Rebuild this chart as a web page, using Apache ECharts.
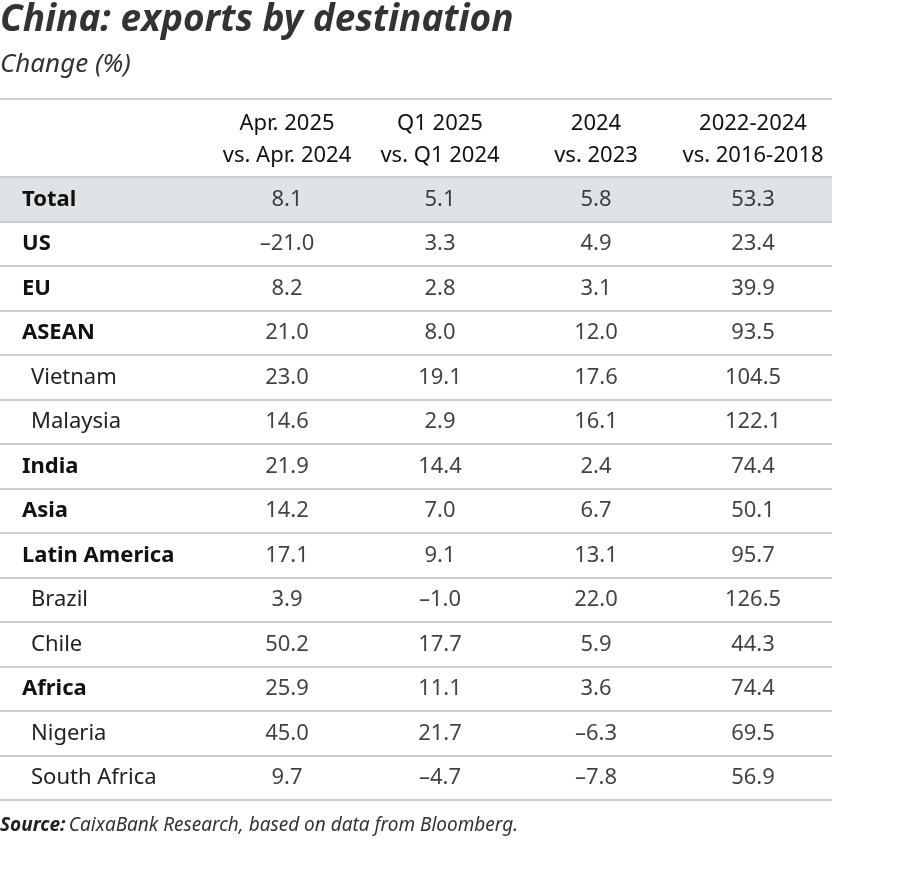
<!DOCTYPE html>
<html><head><meta charset="utf-8">
<script src="https://cdn.jsdelivr.net/npm/echarts@6/dist/echarts.min.js"></script>
<style>html,body{margin:0;padding:0;background:#fff}#c{width:900px;height:889px}</style>
</head><body><div id="c"></div>
<script>
const rows = ['Total','US','EU','ASEAN','Vietnam','Malaysia','India','Asia','Latin America','Brazil','Chile','Africa','Nigeria','South Africa'];
const subRows = ['Vietnam','Malaysia','Brazil','Chile','Nigeria','South Africa'];
const colHeaders = [['Apr. 2025','vs. Apr. 2024'],['Q1 2025','vs. Q1 2024'],['2024','vs. 2023'],['2022-2024','vs. 2016-2018']];
const apr2025 = [8.1,-21.0,8.2,21.0,23.0,14.6,21.9,14.2,17.1,3.9,50.2,25.9,45.0,9.7];
const q12025 = [5.1,3.3,2.8,8.0,19.1,2.9,14.4,7.0,9.1,-1.0,17.7,11.1,21.7,-4.7];
const y2024 = [5.8,4.9,3.1,12.0,17.6,16.1,2.4,6.7,13.1,22.0,5.9,3.6,-6.3,-7.8];
const y2224 = [53.3,23.4,39.9,93.5,104.5,122.1,74.4,50.1,95.7,126.5,44.3,74.4,69.5,56.9];
const columns = [apr2025,q12025,y2024,y2224];

const colX = [287,440,596,753];
const W = 832, TOP = 177, BOT = 800;
const FONT = '"Noto Sans", sans-serif';
const lineC = '#c6cdd4';
const fmt = v => v < 0 ? '\u2013' + Math.abs(v).toFixed(1) : v.toFixed(1);

const chart = echarts.init(document.getElementById('c'));
const graphic = [
  {type:'text',left:0,top:2,style:{text:'China: exports by destination',font:'italic bold 37px '+FONT,fill:'#333'}},
  {type:'text',left:0,top:52,style:{text:'Change (%)',font:'italic 26px '+FONT,fill:'#333'}},
  {type:'text',left:0,top:816,style:{rich:{b:{font:'italic bold 19px '+FONT,fill:'#222'},n:{font:'italic 19px '+FONT,fill:'#333'}},text:'{b|Source:} {n|CaixaBank Research, based on data from Bloomberg.}'}},
];
[99,TOP,BOT].forEach(y=>graphic.push({type:'line',shape:{x1:0,y1:y,x2:W,y2:y},style:{stroke:lineC,lineWidth:2}}));
colHeaders.forEach((h,i)=>{
  graphic.push({type:'text',x:colX[i],y:124,style:{text:h[0],font:'22px '+FONT,fill:'#111',align:'center',verticalAlign:'middle'}});
  graphic.push({type:'text',x:colX[i],y:156,style:{text:h[1],font:'22px '+FONT,fill:'#111',align:'center',verticalAlign:'middle'}});
});
const areaColors = rows.map((r,i)=> i===0 ? '#dfe3e6' : 'rgba(0,0,0,0)');
chart.setOption({
  animation:false,
  graphic,
  grid:{left:0,top:TOP,width:W,height:BOT-TOP},
  xAxis:{type:'value',min:0,max:W,show:false},
  yAxis:{type:'category',data:rows,inverse:true,boundaryGap:true,
    axisLine:{show:false},axisTick:{show:false},
    splitLine:{show:true,lineStyle:{color:lineC,width:2}},
    splitArea:{show:true,areaStyle:{color:areaColors}},
    axisLabel:{inside:true,margin:0,formatter:v=>subRows.includes(v)?'{s|'+v+'}':'{m|'+v+'}',
      rich:{m:{fontFamily:FONT,fontWeight:'bold',fontSize:22,color:'#111',padding:[0,0,0,22]},
            s:{fontFamily:FONT,fontSize:22,color:'#222',padding:[0,0,0,31]}}}},
  series: columns.map((vals,ci)=>({
    type:'scatter',symbolSize:0,
    data: vals.map((v,ri)=>({value:[colX[ci],rows[ri]],raw:v})),
    label:{show:true,position:'inside',fontFamily:FONT,fontSize:22,
      formatter:p=>fmt(p.data.raw),color:'#111'}
  }))
});
</script></body></html>
